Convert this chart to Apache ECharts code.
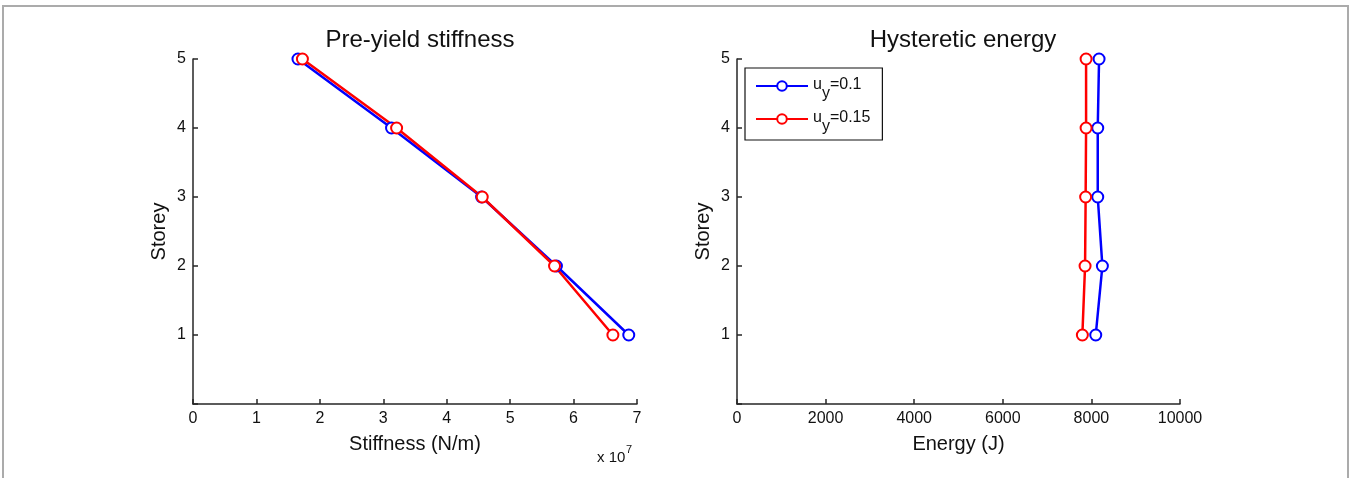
<!DOCTYPE html>
<html>
<head>
<meta charset="utf-8">
<script src="https://cdn.jsdelivr.net/npm/echarts@6/dist/echarts.min.js"></script>
<style>
html,body{margin:0;padding:0;background:#fff;}
#c{width:1351px;height:478px;}
</style>
</head>
<body>
<div id="c"></div>
<script>
var storeys = [1, 2, 3, 4, 5];
var stiffness_uy010 = [6.87e7, 5.73e7, 4.55e7, 3.13e7, 1.655e7];
var stiffness_uy015 = [6.62e7, 5.70e7, 4.56e7, 3.21e7, 1.725e7];
var energy_uy010 = [8098, 8248, 8143, 8143, 8173];
var energy_uy015 = [7796, 7857, 7870, 7880, 7880];
var seriesNames = ['u_y=0.1', 'u_y=0.15'];
var stiffTicks = [0, 1, 2, 3, 4, 5, 6, 7];
var energyTicks = [0, 2000, 4000, 6000, 8000, 10000];

function pairs(xs) { return xs.map(function (x, i) { return [x, storeys[i]]; }); }

var FONT = 'Liberation Sans, Arial, sans-serif';
var AX = '#262626';
function xAxisCfg(idx, name, max, interval, fmt) {
  return {
    gridIndex: idx, type: 'value', min: 0, max: max, interval: interval,
    name: name, nameLocation: 'middle', nameGap: 30,
    nameTextStyle: { fontFamily: FONT, fontSize: 20, color: '#111' },
    axisLine: { show: true, lineStyle: { color: AX, width: 1.5 } },
    axisTick: { show: true, inside: true, length: 5, lineStyle: { color: AX, width: 1.5 } },
    axisLabel: { fontFamily: FONT, fontSize: 16, color: '#111', margin: 7, formatter: fmt },
    splitLine: { show: false }
  };
}
function yAxisCfg(idx) {
  return {
    gridIndex: idx, type: 'value', min: 0, max: 5, interval: 1,
    name: 'Storey', nameLocation: 'middle', nameGap: 24, nameRotate: 90,
    nameTextStyle: { fontFamily: FONT, fontSize: 20, color: '#111' },
    axisLine: { show: true, lineStyle: { color: AX, width: 1.5 } },
    axisTick: { show: true, inside: true, length: 5, lineStyle: { color: AX, width: 1.5 } },
    axisLabel: { fontFamily: FONT, fontSize: 16, color: '#111', margin: 7,
      formatter: function (v) { return v === 0 ? '' : String(v); } },
    splitLine: { show: false }
  };
}
function lineSeries(name, color, data, xi) {
  return {
    type: 'line', name: name, xAxisIndex: xi, yAxisIndex: xi, data: data,
    symbol: 'emptyCircle', symbolSize: 11, showSymbol: true,
    lineStyle: { color: color, width: 2.5 },
    itemStyle: { color: color, borderColor: color, borderWidth: 2.2 },
    emphasis: { disabled: true }, animation: false, z: 3
  };
}

var chart = echarts.init(document.getElementById('c'), null, { renderer: 'canvas' });
chart.setOption({
  backgroundColor: '#fff',
  animation: false,
  title: [
    { text: 'Pre-yield stiffness', left: 415, top: 23, textAlign: 'center',
      textStyle: { fontFamily: FONT, fontSize: 24, fontWeight: 'normal', color: '#111' } },
    { text: 'Hysteretic energy', left: 958, top: 23, textAlign: 'center',
      textStyle: { fontFamily: FONT, fontSize: 24, fontWeight: 'normal', color: '#111' } }
  ],
  grid: [
    { left: 193, top: 59, width: 444, height: 345, containLabel: false },
    { left: 737, top: 59, width: 443, height: 345, containLabel: false }
  ],
  xAxis: [
    xAxisCfg(0, 'Stiffness (N/m)', stiffTicks[stiffTicks.length - 1] * 1e7, 1e7,
      function (v) { return String(Math.round(v / 1e7)); }),
    xAxisCfg(1, 'Energy (J)', energyTicks[energyTicks.length - 1], 2000,
      function (v) { return String(v); })
  ],
  yAxis: [yAxisCfg(0), yAxisCfg(1)],
  legend: {
    data: seriesNames.map(function (n) { return { name: n }; }),
    orient: 'vertical', left: 745, top: 68,
    padding: [9, 12, 5, 10], itemGap: 8,
    itemWidth: 52, itemHeight: 12,
    borderColor: '#111', borderWidth: 1.2, backgroundColor: '#fff',
    selectedMode: false,
    formatter: function (n) {
      var rest = n.split('_y')[1];
      return '{a|u}{s|y}{a|' + rest + '}';
    },
    textStyle: {
      fontFamily: FONT, fontSize: 16, color: '#111',
      rich: {
        a: { fontFamily: FONT, fontSize: 16, color: '#111', verticalAlign: 'top', lineHeight: 18 },
        s: { fontFamily: FONT, fontSize: 16, color: '#111', verticalAlign: 'top', lineHeight: 18, padding: [9, 0, 0, 0] }
      }
    }
  },
  graphic: [
    { type: 'rect', shape: { x: 3, y: 6, width: 1345, height: 480 },
      style: { fill: 'none', stroke: '#ababab', lineWidth: 2 }, z: 0, silent: true },
    { type: 'text', left: 597, top: 450,
      style: { text: 'x 10', font: '15px ' + FONT, fill: '#111' }, z: 5 },
    { type: 'text', left: 626, top: 444,
      style: { text: '7', font: '11px ' + FONT, fill: '#111' }, z: 5 }
  ],
  series: [
    lineSeries(seriesNames[0], '#0000ff', pairs(stiffness_uy010), 0),
    lineSeries(seriesNames[1], '#ff0000', pairs(stiffness_uy015), 0),
    lineSeries(seriesNames[0], '#0000ff', pairs(energy_uy010), 1),
    lineSeries(seriesNames[1], '#ff0000', pairs(energy_uy015), 1)
  ]
});
</script>
</body>
</html>
